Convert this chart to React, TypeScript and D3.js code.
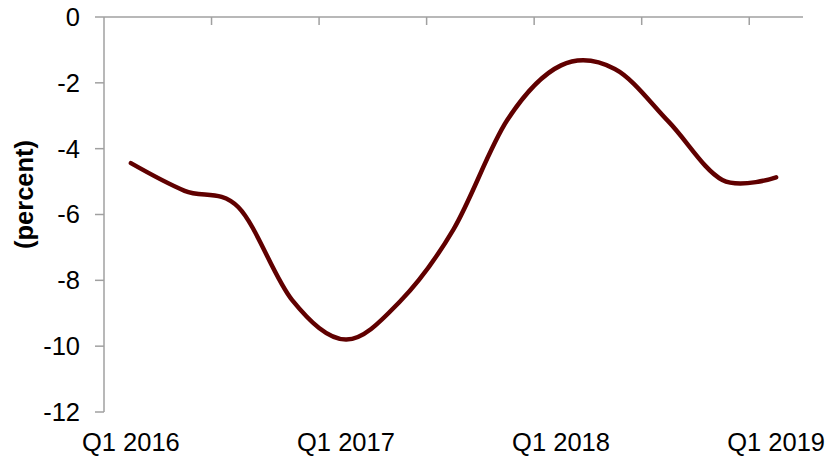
import React from "react";
import * as d3 from "d3";

const categories = [
  "Q1 2016", "Q2 2016", "Q3 2016", "Q4 2016",
  "Q1 2017", "Q2 2017", "Q3 2017", "Q4 2017",
  "Q1 2018", "Q2 2018", "Q3 2018", "Q4 2018",
  "Q1 2019",
];
const values = [-4.44, -5.28, -5.78, -8.6, -9.8, -8.65, -6.45, -3.13, -1.47, -1.58, -3.18, -4.95, -4.87];
const yTicks = [0, -2, -4, -6, -8, -10, -12];
const xLabels = ["Q1 2016", "Q1 2017", "Q1 2018", "Q1 2019"];
const yTitle = "(percent)";

const W = 835;
const H = 459;
const left = 104;
const right = 803;
const top = 17;
const bottom = 412;

export default function App() {
  const x = d3.scaleBand<string>().domain(categories).range([left, right]).padding(0);
  const y = d3.scaleLinear().domain([-12, 0]).range([bottom, top]);
  const cx = (c: string) => (x(c) as number) + x.bandwidth() / 2;

  const line = d3
    .line<number>()
    .x((_, i) => cx(categories[i]))
    .y((d) => y(d))
    .curve(d3.curveCardinal.tension(0));

  const axisColor = "#a0a0a0";
  const font = "Liberation Sans, Arial, sans-serif";
  const tickPositions = categories
    .map((c, i) => ({ c, i }))
    .filter(({ i }) => i > 0 && i % 2 === 0)
    .map(({ c }) => x(c) as number);

  return (
    <div style={{ position: "absolute", left: 0, top: 0 }}>
      <svg width={W} height={H} style={{ display: "block", background: "#fff" }}>
        <line x1={left} x2={left} y1={top} y2={bottom} stroke={axisColor} strokeWidth={1.5} />
        {yTicks.map((t) => (
          <g key={t}>
            <line x1={left - 9} x2={left} y1={y(t)} y2={y(t)} stroke={axisColor} strokeWidth={1.5} />
            <text
              x={80}
              y={y(t)}
              dy="0.35em"
              textAnchor="end"
              fontFamily={font}
              fontSize={25.5}
              fill="#000"
            >
              {t}
            </text>
          </g>
        ))}
        <line x1={left} x2={right} y1={y(0)} y2={y(0)} stroke={axisColor} strokeWidth={1.5} />
        {tickPositions.map((p, i) => (
          <line key={i} x1={p} x2={p} y1={y(0)} y2={y(0) + 8} stroke={axisColor} strokeWidth={1.5} />
        ))}
        {xLabels.map((l) => (
          <text
            key={l}
            x={cx(l)}
            y={451}
            textAnchor="middle"
            fontFamily={font}
            fontSize={25.5}
            fill="#000"
          >
            {l}
          </text>
        ))}
        <text
          transform={`translate(33, ${(top + bottom) / 2 - 20}) rotate(-90)`}
          textAnchor="middle"
          fontFamily={font}
          fontSize={25.5}
          fontWeight="bold"
          fill="#000"
        >
          {yTitle}
        </text>
        <path
          d={line(values) || ""}
          fill="none"
          stroke="#600000"
          strokeWidth={4.5}
          strokeLinecap="round"
          strokeLinejoin="round"
        />
      </svg>
    </div>
  );
}
